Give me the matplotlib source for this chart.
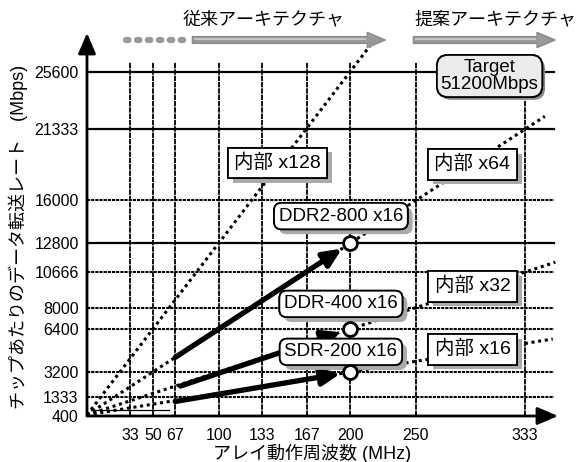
import numpy as np
import matplotlib
matplotlib.use("Agg")
import matplotlib.pyplot as plt
from matplotlib import patheffects as pe
from matplotlib import transforms
from matplotlib.patches import FancyArrow

plt.rcParams['font.family'] = ['Liberation Sans', 'Noto Sans CJK JP', 'DejaVu Sans']

# data
freq_ticks = [33, 50, 67, 100, 133, 167, 200, 250, 333]
rate_ticks = [400, 1333, 3200, 6400, 8000, 10666, 12800, 16000, 21333, 25600]
solid_rates = [12800, 21333, 25600]

internal_mult = [16, 32, 64, 128]
internal_end = [354, 356, 348, 215]          # MHz where each dotted line stops
internal_labels = ['内部 x16', '内部 x32', '内部 x64', '内部 x128']

dram_names = ['SDR-200 x16', 'DDR-400 x16', 'DDR2-800 x16']
dram_freq = [200, 200, 200]
dram_rate = [3200, 6400, 12800]
start_freq = [67, 71, 67]
start_rate = [1000, 2150, 4288]

fig = plt.figure(figsize=(5.77, 4.62), dpi=100)
ax = fig.add_axes([87 / 577, 46 / 462, 471 / 577, 383 / 462])
xmax, ymin, ymax = 358, -82, 28487
ax.set_xlim(0, xmax)
ax.set_ylim(ymin, ymax)
for s in ax.spines.values():
    s.set_visible(False)

# grid
ax.vlines(freq_ticks, ymin, 26320, colors='k', lw=1.3, linestyles=[(0, (3, 0.5))], zorder=1)
for r in rate_ticks[1:]:
    if r in solid_rates:
        ax.plot([0, 355], [r, r], color='k', lw=1.6, zorder=1)
    else:
        ax.plot([0, 355], [r, r], color='k', lw=1.5, ls=(0, (1.5, 0.5)), zorder=1)

# axes arrows
for end in [(xmax, ymin), (0, ymax)]:
    ax.annotate('', xy=end, xytext=(0, ymin),
                arrowprops=dict(arrowstyle='-|>,head_length=0.7,head_width=0.3', lw=2,
                                color='k', shrinkA=0, shrinkB=0, mutation_scale=18),
                annotation_clip=False, zorder=4)

# internal bandwidth lines
for m, fe in zip(internal_mult, internal_end):
    ax.plot([0, fe], [0, m * fe], color='k', lw=2.2, ls=(0, (1, 1.2)), zorder=2)
ax.plot([3, 62], [400, 400], color='k', lw=0.9, zorder=2)

# thick arrows to DRAM points
for sf, sr, f, r in zip(start_freq, start_rate, dram_freq, dram_rate):
    ax.annotate('', xy=(f, r), xytext=(sf, sr),
                arrowprops=dict(arrowstyle='-|>,head_length=0.55,head_width=0.25', lw=3.8,
                                color='k', shrinkA=0, shrinkB=7, mutation_scale=20),
                zorder=3)
ax.plot(dram_freq, dram_rate, 'o', ms=10, mfc='white', mec='k', mew=2, zorder=8)

ax.set_xticks(freq_ticks)
ax.set_xticklabels([str(v) for v in freq_ticks], fontsize=11.5)
ax.set_yticks(rate_ticks)
ax.set_yticklabels([str(v) for v in rate_ticks], fontsize=11.5)
ax.tick_params(length=0, pad=6)
ax.tick_params(axis='x', pad=9)
# nudge the 400 label down to sit on the axis
lab400 = ax.get_yticklabels()[0]
lab400.set_transform(lab400.get_transform() + transforms.ScaledTranslation(0, -5 / 72, fig.dpi_scale_trans))

shadow = [pe.withSimplePatchShadow(offset=(3.5, -3.5), shadow_rgbFace='#aaaaaa', alpha=1), pe.Normal()]

def box(x, y, s, style, fs=13.5):
    t = ax.text(x, y, s, fontsize=fs, ha='center', va='center', zorder=7,
                bbox=dict(boxstyle=style, fc='white', ec='k', lw=1.3))
    t.get_bbox_patch().set_path_effects(shadow)

box(293, 4900, internal_labels[0], 'square,pad=0.32', 14)
box(293, 9600, internal_labels[1], 'square,pad=0.32', 14)
box(293, 18700, internal_labels[2], 'square,pad=0.32', 14)
box(145, 18790, internal_labels[3], 'square,pad=0.32', 14)

box(193, 4700, dram_names[0], 'round,pad=0.25,rounding_size=0.4')
box(193, 8280, dram_names[1], 'round,pad=0.25,rounding_size=0.4')
box(193, 14830, dram_names[2], 'round,pad=0.25,rounding_size=0.4')

t = ax.text(306, 25280, 'Target\n51200Mbps', fontsize=13.5, ha='center', va='center',
            linespacing=1.05, zorder=7,
            bbox=dict(boxstyle='round,pad=0.2,rounding_size=0.6', fc='#ebebeb', ec='k', lw=1.3))
t.get_bbox_patch().set_path_effects([pe.withSimplePatchShadow(offset=(2, -2), shadow_rgbFace='#888888', alpha=1), pe.Normal()])

# architecture arrows at top
yarr = 27965
ax.plot([30, 74], [yarr, yarr], color='#9a9a9a', lw=4.5, ls=(0, (0.4, 1.35)),
        dash_capstyle='round', clip_on=False, zorder=4)
for x0, dx in [(80, 147), (248, 108)]:
    ax.add_patch(FancyArrow(x0, yarr, dx, 0, width=520, head_width=1150, head_length=14,
                            length_includes_head=True, fc='#999999', ec='#858585', lw=0.8,
                            clip_on=False, zorder=4))
    ax.plot([x0 + 1, x0 + dx - 15], [yarr + 100, yarr + 100], color='#c4c4c4', lw=1.5,
            solid_capstyle='butt', clip_on=False, zorder=4)
fig.text(264 / 577, 1 - 20 / 462, '従来アーキテクチャ', fontsize=13, ha='center', va='center')
fig.text(495 / 577, 1 - 20 / 462, '提案アーキテクチャ', fontsize=13, ha='center', va='center')

fig.text(18 / 577, 1 - 237 / 462, 'チップあたりのデータ転送レート　(Mbps)', fontsize=13,
         rotation=90, ha='center', va='center')
fig.text(312 / 577, 1 - 453 / 462, 'アレイ動作周波数 (MHz)', fontsize=13, ha='center', va='center')

fig.savefig('out.png', dpi=100)
